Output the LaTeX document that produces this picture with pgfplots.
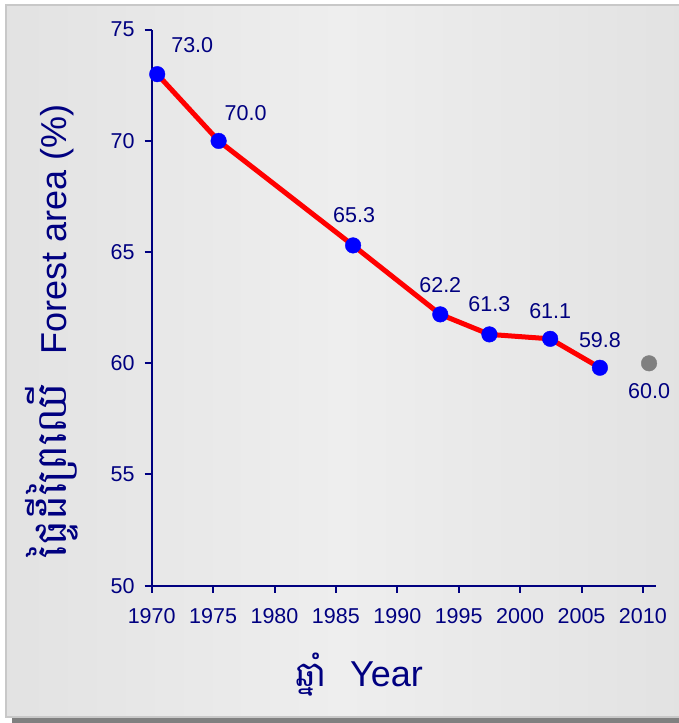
\documentclass[border=0pt]{standalone}
\usepackage{pgfplots}
\pgfplotsset{compat=1.18}
\usepackage{pgfplotstable}
\usepackage{fontspec}
\setmainfont{Liberation Sans}
\newfontfamily\khmer[Script=Khmer]{Battambang}

\definecolor{navy}{RGB}{0,0,128}
\definecolor{bgdark}{RGB}{190,190,190}
\definecolor{bglight}{RGB}{238,238,238}
\definecolor{framegray}{RGB}{200,200,200}
\definecolor{shadowgray}{RGB}{128,128,128}
\definecolor{ptgray}{RGB}{128,128,128}

% forest area, % of land
\pgfplotstableread{
x       y     lab   dx  dy
1970.45 73.0  73.0  35  29
1975.45 70.0  70.0  27  28
1986.4  65.3  65.3  1   30
1993.5  62.2  62.2  0   29
1997.5  61.3  61.3  0   30
2002.45 61.1  61.1  0   28
2006.5  59.8  59.8  0   28
}\forest
\pgfplotstableread{
x       y     lab   dx  dy
2010.5  60.0  60.0  0   -28
}\target

\pgfplotsset{
  vallabels/.style={
    nodes near coords, point meta=explicit symbolic,
    visualization depends on={\thisrow{dx}\as\labdx},
    visualization depends on={\thisrow{dy}\as\labdy},
    every node near coord/.append style={anchor=center,
      xshift=\labdx pt, yshift=\labdy pt,
      text=navy, font=\fontsize{21.5}{24}\selectfont, inner sep=0pt}
  }
}

\begin{document}
\begin{tikzpicture}[x=1pt,y=1pt]
\useasboundingbox (0,0) rectangle (679,723);
\fill[white] (0,0) rectangle (679,723);
\fill[shadowgray] (12,0) rectangle (679,5);
\begin{scope}
  \clip (6,6) rectangle (679,718);
  % grey in the top-left and bottom-right corners, light across the middle
  \shade[left color=bgdark, right color=bgdark, middle color=bglight,
    rotate around={-45:(342,362)}] (-638,-618) rectangle (1322,1342);
\end{scope}
\draw[framegray, line width=1.5pt] (679,718) -- (6,718) -- (6,6) -- (679,6);

\begin{axis}[
  at={(151.7pt,137.3pt)}, anchor=south west,
  scale only axis, width=504.1pt, height=556pt,
  xmin=1970, xmax=2011.05, ymin=50, ymax=75,
  axis lines=left,
  axis line style={-, navy, line width=2.2pt},
  xtick={1970,1975,...,2010}, ytick={50,55,...,75},
  tick align=outside, major tick length=7pt,
  tick style={navy, line width=2pt},
  minor tick num=0,
  /pgf/number format/1000 sep={},
  /pgf/number format/assume math mode=true,
  ticklabel style={font=\fontsize{21.5}{24}\selectfont, text=navy, inner sep=0pt},
  xticklabel style={yshift=-16pt},
  yticklabel style={xshift=-10pt},
  clip=false,
]
\addplot[only marks, mark=*, mark size=7.8pt,
  mark options={draw=blue, fill=blue}, vallabels]
  table[x=x, y=y, meta=lab]{\forest};
\addplot[red, line width=5pt, no markers, line join=round] table[x=x, y=y]{\forest};
\addplot[only marks, mark=*, mark size=7.8pt,
  mark options={draw=ptgray, fill=ptgray}, vallabels]
  table[x=x, y=y, meta=lab]{\target};
\end{axis}

% axis titles
\node[anchor=base east, inner sep=0pt, text=navy, font=\khmer\fontsize{35}{40}\selectfont]
  at (327,36) {ឆ្នាំ};
\node[anchor=base west, inner sep=0pt, text=navy, font=\fontsize{36}{40}\selectfont]
  at (350,36) {Year};
\node[rotate=90, anchor=base west, inner sep=0pt, text=navy, font=\fontsize{36}{40}\selectfont]
  at (66,368) {Forest area (\%)};
\node[rotate=90, anchor=base east, inner sep=0pt, text=navy, font=\khmer\fontsize{42}{48}\selectfont]
  at (66,340) {ផ្ទៃដីព្រៃឈើ};
\end{tikzpicture}
\end{document}
